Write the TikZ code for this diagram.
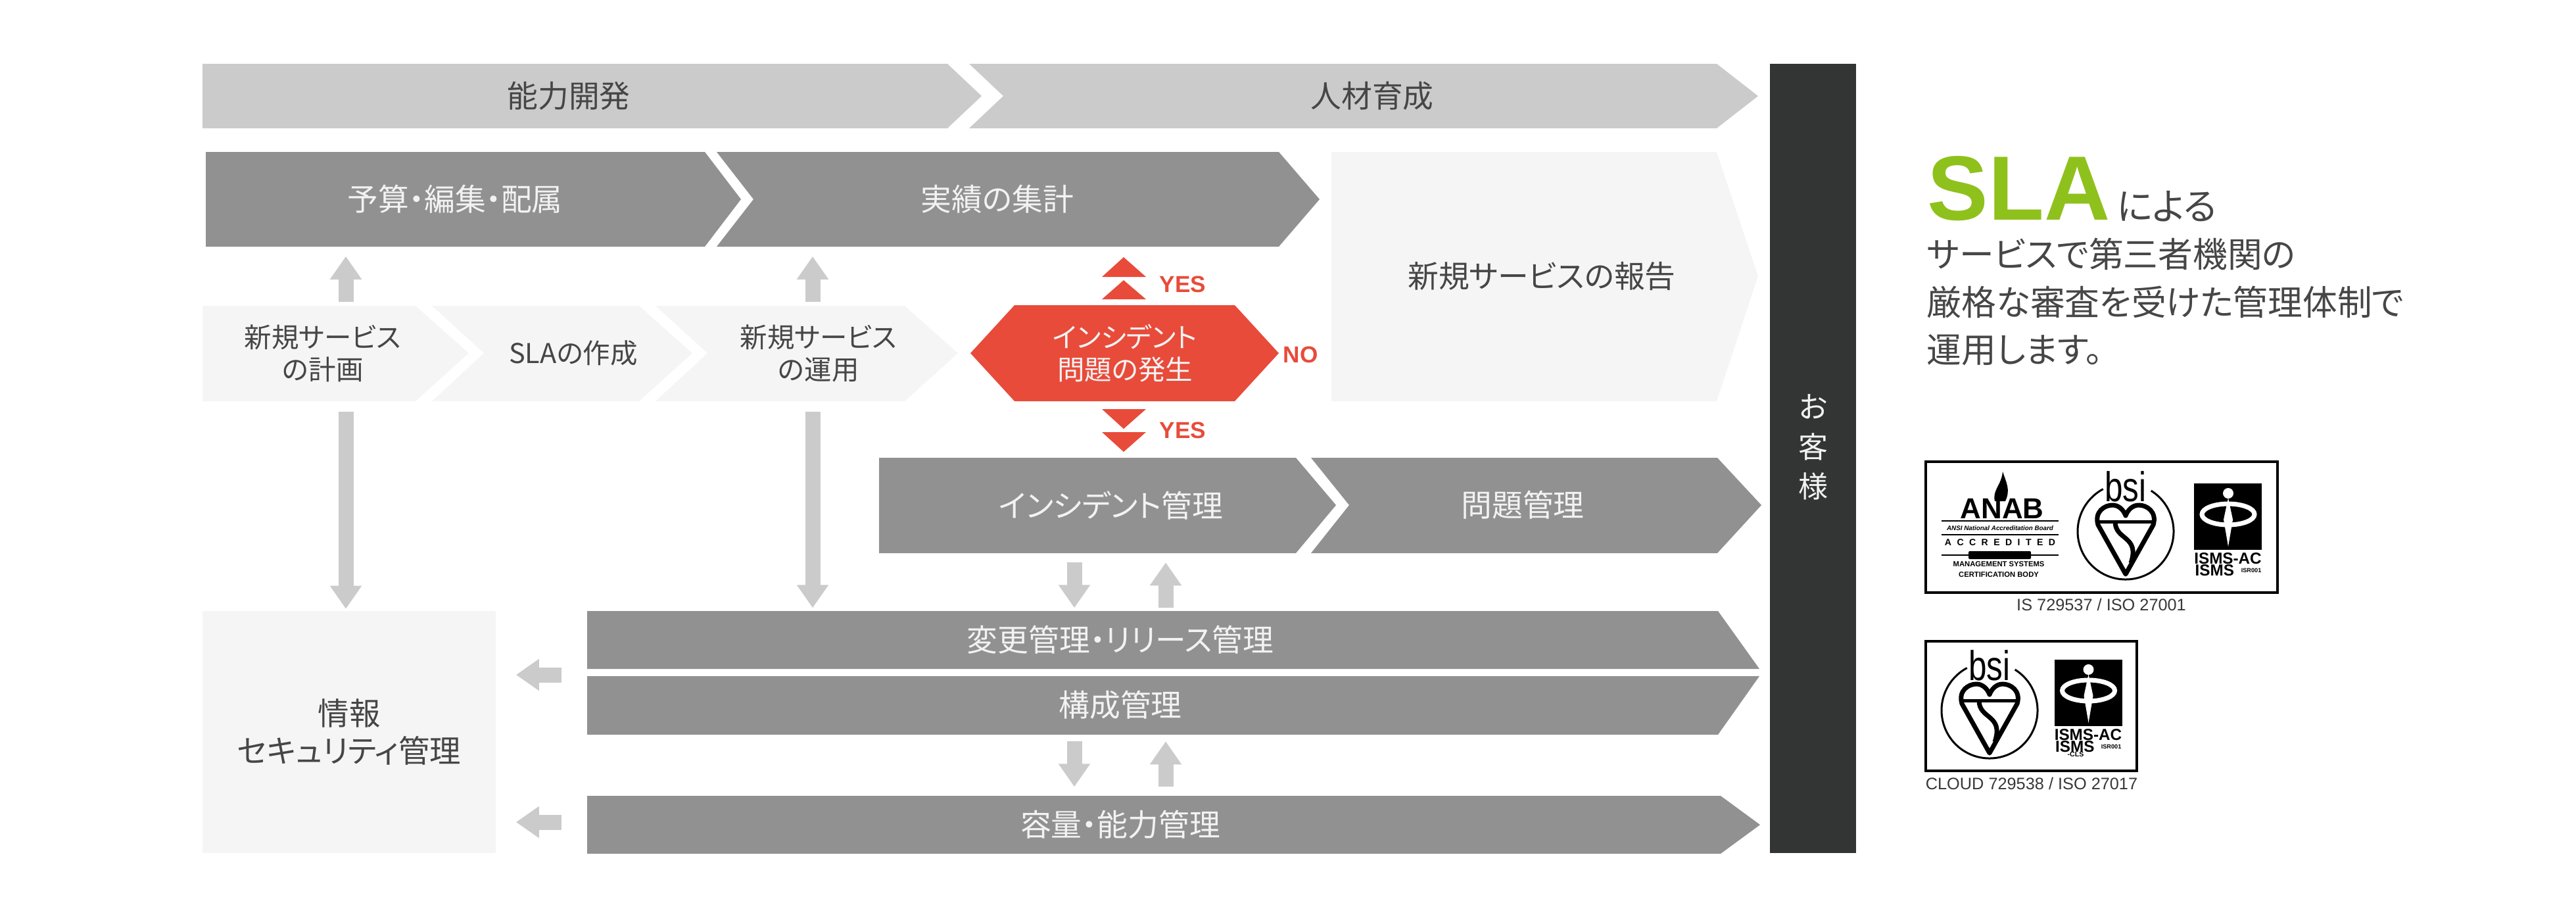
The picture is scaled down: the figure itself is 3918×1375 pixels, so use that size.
\documentclass[tikz,border=0pt]{standalone}
\usepackage{fontspec}
\usepackage{xcolor}
\usetikzlibrary{arrows.meta}
\setmainfont[RawFeature=+palt]{Noto Sans CJK JP}
\newfontfamily\latinfont{Liberation Sans}
\definecolor{bandgray}{RGB}{203,203,203}
\definecolor{darkband}{RGB}{145,145,145}
\definecolor{lightband}{RGB}{245,245,245}
\definecolor{barblack}{RGB}{51,52,52}
\definecolor{alertred}{RGB}{232,75,58}
\definecolor{slagreen}{RGB}{143,193,28}
\definecolor{labelgray}{RGB}{70,70,70}
\tikzset{
	bigtext/.style={font=\fontsize{13.3}{16}\selectfont, align=center, inner sep=0pt},
	smalltext/.style={font=\fontsize{11.8}{13.9}\selectfont, align=center, inner sep=0pt},
	onlight/.style={text=labelgray},
	ondark/.style={text=white!95!black},
	blockarrow/.style={draw=bandgray, line width=0.23cm, -{Triangle[length=0.35cm,width=0.46cm]}},
	flag/.style={font=\latinfont\bfseries\fontsize{10}{12}\selectfont, text=alertred, inner sep=0pt},
	caption/.style={font=\latinfont\fontsize{7.2}{8}\selectfont, text=labelgray!80!black, inner sep=0pt},
	bsimark/.pic={
		\draw[line width=0.03cm] (-58:73) arc[start angle=-58, end angle=242, radius=73];
		\node[font=\latinfont\fontsize{18}{18}\selectfont, xscale=0.78, inner sep=0pt] (word) at (0,-68) {bsi};
		% heart with bar and S
		\draw[line width=0.07cm, line join=round] (0,65) -- (-42,-10) .. controls (-48,-30) and (-32,-40) .. (-20,-40) .. controls (-10,-40) and (-3,-32) .. (0,-24) .. controls (3,-32) and (10,-40) .. (20,-40) .. controls (32,-40) and (48,-30) .. (42,-10) -- cycle;
		\draw[line width=0.05cm] (-43,-15) -- (43,-15);
		\draw[line width=0.07cm] (-16,-15) .. controls (-16,14) and (22,6) .. (8,48);
	},
	ismsmark/.pic={
		\fill[black] (0,0) rectangle (103,101);
		\fill[white] (52,15) circle (8);
		\draw[white, line width=0.07cm] (52,47) ellipse (40 and 16);
		\fill[white] (52,22) -- (59,55) -- (52,96) -- (45,55) -- cycle;
		\fill[black] (36,38) rectangle (44,56);
		\node[font=\latinfont\bfseries\fontsize{6.9}{7}\selectfont, anchor=north, inner sep=0pt] (top) at (51.5,105) {ISMS-AC};
	}
}

\begin{document}
\begin{tikzpicture}[x=0.01cm,y=-0.01cm]
	\useasboundingbox (0,0) rectangle (3918,1375);
	\coordinate (colA) at (526,0);
	\coordinate (colB) at (1236,0);
	\coordinate (colC) at (1634,0);
	\coordinate (colD) at (1773,0);
	\coordinate (rowA) at (0,1026);
	\coordinate (rowB) at (0,1250);

	% Top bands
	\fill[bandgray] (308,97) -- (1441,97) -- (1493,146) -- (1441,195) -- (308,195) -- cycle;
	\fill[bandgray] (1474,97) -- (2611,97) -- (2674,146) -- (2611,195) -- (1474,195) -- (1526,146) -- cycle;
	\node[bigtext,onlight] (ability) at (865,146) {能力開発};
	\node[bigtext,onlight] (staff) at (2087,146) {人材育成};

	% Budget and results
	\fill[darkband] (313,231) -- (1072,231) -- (1127,303) -- (1072,375) -- (313,375) -- cycle;
	\fill[darkband] (1090,231) -- (1945,231) -- (2007,303) -- (1945,375) -- (1090,375) -- (1146,303) -- cycle;
	\node[bigtext,ondark,minimum width=7.58cm,minimum height=1.44cm] (budget) at (692,303) {予算・編集・配属};
	\node[bigtext,ondark,minimum width=7.42cm,minimum height=1.44cm] (results) at (1517,303) {実績の集計};

	% Light steps
	\fill[lightband] (308,465) -- (632,465) -- (713,537) -- (632,610) -- (308,610) -- cycle;
	\fill[lightband] (657,465) -- (972,465) -- (1053,537) -- (972,610) -- (657,610) -- (736,537) -- cycle;
	\fill[lightband] (997,465) -- (1376,465) -- (1457,537) -- (1376,610) -- (997,610) -- (1076,537) -- cycle;
	\fill[lightband] (2025,231) -- (2611,231) -- (2674,420) -- (2611,610) -- (2025,610) -- cycle;
	\node[smalltext,onlight,minimum width=3.66cm,minimum height=1.45cm] (plan) at (491,537) {新規サービス\\の計画};
	\node[smalltext,onlight] (create) at (872,537) {SLAの作成};
	\node[smalltext,onlight,minimum width=3.38cm,minimum height=1.45cm] (operate) at (1245,537) {新規サービス\\の運用};
	\node[bigtext,onlight] (report) at (2345,420) {新規サービスの報告};

	% Incident decision
	\fill[alertred] (1476,537) -- (1543,464) -- (1878,464) -- (1945,537) -- (1878,610) -- (1543,610) -- cycle;
	\node[smalltext,ondark] (trouble) at (1711,537) {インシデント\\問題の発生};
	\foreach \apex/\base in {391/421, 426/455, 652/622, 687/657} {
		\fill[alertred] (1709,\apex) -- (1676,\base) -- (1743,\base) -- cycle;
	}
	\node[flag] (yesup) at (1799,432) {YES};
	\node[flag] (yesdown) at (1799,654) {YES};
	\node[flag] (nolabel) at (1978,539) {NO};

	% Management bands
	\fill[darkband] (1337,696) -- (1971,696) -- (2032,768) -- (1971,841) -- (1337,841) -- cycle;
	\fill[darkband] (1994,696) -- (2612,696) -- (2679,768) -- (2612,841) -- (1994,841) -- (2052,768) -- cycle;
	\fill[darkband] (893,929) -- (2613,929) -- (2676,1017) -- (893,1017) -- cycle;
	\fill[darkband] (893,1028) -- (2676,1028) -- (2613,1117) -- (893,1117) -- cycle;
	\fill[darkband] (893,1210) -- (2617,1210) -- (2677,1254) -- (2617,1298) -- (893,1298) -- cycle;
	\node[bigtext,ondark,minimum width=6.4cm,minimum height=1.45cm] (incident) at (1690,768) {インシデント管理};
	\node[bigtext,ondark] (problem) at (2316,768) {問題管理};
	\node[bigtext,ondark,minimum width=16.22cm,minimum height=0.88cm] (change) at (1704,973) {変更管理・リリース管理};
	\node[bigtext,ondark,minimum width=16.22cm,minimum height=0.89cm] (config) at (1704,1072) {構成管理};
	\node[bigtext,ondark,minimum width=16.22cm,minimum height=0.88cm] (capacity) at (1704,1254) {容量・能力管理};

	% Security box and customer bar
	\node[bigtext,onlight,fill=lightband,minimum width=4.46cm,minimum height=3.67cm,font=\fontsize{13.5}{16.2}\selectfont] (security) at (531,1113) {情報\\セキュリティ管理};
	\node[fill=barblack,minimum width=1.31cm,minimum height=12cm,inner sep=0pt,
		label={[bigtext,ondark,font=\fontsize{12.8}{17.3}\selectfont,yshift=0.17cm]center:お\\客\\様}] (customer) at (2757.5,697) {};

	% Gray arrows
	\draw[blockarrow,shorten <=0.05cm,shorten >=0.14cm] (plan.north -| colA) -- (budget.south -| colA);
	\draw[blockarrow,shorten <=0.05cm,shorten >=0.14cm] (operate.north -| colB) -- (results.south -| colB);
	\draw[blockarrow,shorten <=0.16cm,shorten >=0.03cm] (plan.south -| colA) -- (security.north -| colA);
	\draw[blockarrow,shorten <=0.16cm,shorten >=0.04cm] (operate.south -| colB) -- (change.north -| colB);
	\draw[blockarrow,shorten <=0.14cm,shorten >=0.04cm] (incident.south -| colC) -- (change.north -| colC);
	\draw[blockarrow,shorten <=0.04cm,shorten >=0.14cm] (change.north -| colD) -- (incident.south -| colD);
	\draw[blockarrow,shorten <=0.10cm,shorten >=0.13cm] (config.south -| colC) -- (capacity.north -| colC);
	\draw[blockarrow,shorten <=0.13cm,shorten >=0.10cm] (capacity.north -| colD) -- (config.south -| colD);
	\draw[blockarrow,shorten <=0.38cm,shorten >=0.30cm] (change.west |- rowA) -- (security.east |- rowA);
	\draw[blockarrow,shorten <=0.38cm,shorten >=0.30cm] (capacity.west |- rowB) -- (security.east |- rowB);

	% SLA text
	\node[font=\latinfont\bfseries\fontsize{39.5}{40}\selectfont,text=slagreen,anchor=base west,inner sep=0pt] (slaword) at (2931,334) {SLA};
	\node[font=\fontsize{16}{18}\selectfont,text=labelgray,anchor=base west,inner sep=0pt] (slavia) at (3219,334) {による};
	\node[font=\fontsize{15}{20.6}\selectfont,text=labelgray,align=left,anchor=west,inner sep=0pt] (slabody) at (2930,459) {サービスで第三者機関の\\厳格な審査を受けた管理体制で\\運用します。};

	% Certificates
	\node[draw=black,line width=0.035cm,minimum width=5.35cm,minimum height=1.99cm,inner sep=0pt] (certA) at (3196.5,801.5) {};
	\node[draw=black,line width=0.035cm,minimum width=3.21cm,minimum height=1.97cm,inner sep=0pt] (certB) at (3089.5,1073.5) {};
	\node[caption] (certAtext) at (3196,919) {IS 729537 / ISO 27001};
	\node[caption] (certBtext) at (3090,1191) {CLOUD 729538 / ISO 27017};

	% ANAB mark
	\fill (3046,717) .. controls (3052,735) and (3058,745) .. (3050,762) -- (3034,762) .. controls (3030,745) and (3044,738) .. cycle;
	\node[font=\latinfont\bfseries\fontsize{12.5}{13}\selectfont,anchor=base,inner sep=0pt] (anabword) at (3045,788) {ANAB};
	\draw[line width=0.012cm] (2953,792) -- (3131,792);
	\node[font=\latinfont\bfseries\itshape\fontsize{2.8}{3}\selectfont,inner sep=0pt] (anabboard) at (3042,803) {ANSI National Accreditation Board};
	\draw[line width=0.012cm] (2953,813) -- (3131,813);
	\node[font=\latinfont\bfseries\fontsize{4}{4}\addfontfeature{LetterSpace=60}\selectfont,inner sep=0pt] (anabaccr) at (3042,825) {ACCREDITED};
	\draw[line width=0.012cm] (2953,844) -- (3131,844);
	\fill[rounded corners=0.02cm] (2994,838) rectangle (3089,850);
	\node[font=\latinfont\bfseries\fontsize{3.2}{4.6}\selectfont,align=center,inner sep=0pt] (anabbody) at (3040,865.5) {MANAGEMENT SYSTEMS\\CERTIFICATION BODY};

	% bsi and ISMS marks
	\pic (bsiA) at (3233,808) {bsimark};
	\pic (bsiB) at (3026,1080) {bsimark};
	\pic (ismsA) at (3337,735) {ismsmark};
	\pic (ismsB) at (3124.5,1003) {ismsmark};
	\node[font=\latinfont\bfseries\fontsize{6.9}{7}\selectfont,anchor=west,inner sep=0pt] (ismsAlow) at (3338,867) {ISMS};
	\node[font=\latinfont\bfseries\fontsize{2.6}{3}\selectfont,anchor=east,inner sep=0pt] (ismsAcode) at (3440,867) {ISR001};
	\node[font=\latinfont\bfseries\fontsize{6.9}{7}\selectfont,anchor=west,inner sep=0pt] (ismsBlow) at (3125.5,1135) {ISMS};
	\node[font=\latinfont\bfseries\fontsize{2.6}{3}\selectfont,anchor=east,inner sep=0pt] (ismsBcode) at (3227,1135) {ISR001};
	\node[font=\latinfont\bfseries\fontsize{3}{3}\selectfont,inner sep=0pt] (ismsBcls) at (3157,1147) {-CLS};
\end{tikzpicture}
\end{document}
